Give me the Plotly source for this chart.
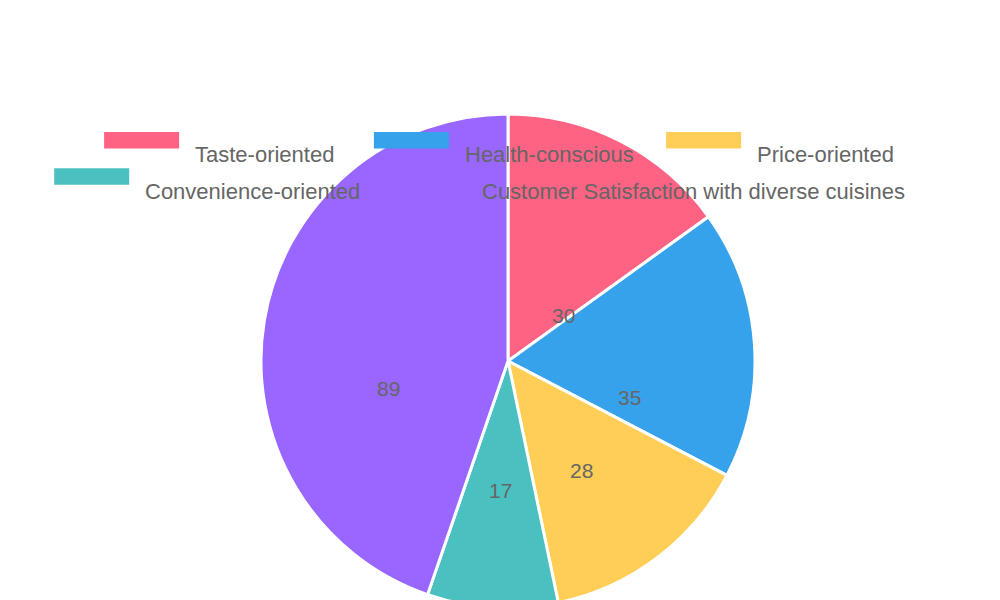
import math
import plotly.graph_objects as go

labels = ["Taste-oriented", "Health-conscious", "Price-oriented", "Convenience-oriented",
          "Customer Satisfaction with diverse cuisines"]
values = [30, 35, 28, 17, 89]
colors = ["#FF6384", "#36A2EB", "#FFCE56", "#4BC0C0", "#9966FF"]

W, H = 1000, 600
top, bottom = 106, 0
fig = go.Figure(go.Pie(
    labels=labels, values=values, sort=False, direction="clockwise", rotation=0,
    marker=dict(colors=colors, line=dict(color="white", width=3)),
    textinfo="none", hoverinfo="label+value", showlegend=False,
))

# value labels at half radius along the slice mid-angle (Chart.js style)
cx, cy = 500, 353
r = 243
total = sum(values)
acc = 0
for v in values:
    mid = (acc + v / 2) / total * 2 * math.pi
    acc += v
    px = cx + 0.5 * r * math.sin(mid)
    py = cy - 0.5 * r * math.cos(mid)
    fig.add_annotation(x=px / W, y=1 - py / H, xref="paper", yref="paper", text=str(v),
                       showarrow=False, font=dict(size=21, color="#666666"))

# custom legend (two centered rows)
rows = [[0, 1, 2], [3, 4]]
row_y = [32, 76]
char_w = 11.2
sw, gap, item_gap = 75, 14, 24
shapes = []
for row, yc in zip(rows, row_y):
    widths = [sw + gap + len(labels[i]) * char_w for i in row]
    tot = sum(widths) + item_gap * (len(row) - 1)
    x = (W - tot) / 2
    for i, w in zip(row, widths):
        fig.add_shape(type="rect", xref="paper", yref="paper",
                      x0=x / W, x1=(x + sw) / W, y0=1 - (yc - 10) / H, y1=1 - (yc + 10) / H,
                      fillcolor=colors[i], line=dict(width=0))
        fig.add_annotation(x=(x + sw + gap) / W, y=1 - yc / H, xref="paper", yref="paper",
                           text=labels[i], showarrow=False, xanchor="left",
                           font=dict(size=22, color="#666666"))
        x += w + item_gap

fig.update_layout(
    width=W, height=H,
    margin=dict(t=top, b=bottom, l=0, r=0),
    paper_bgcolor="white",
    font=dict(family="Liberation Sans, Arial, sans-serif", color="#666666", size=22),
)
fig.write_html("out.html")
